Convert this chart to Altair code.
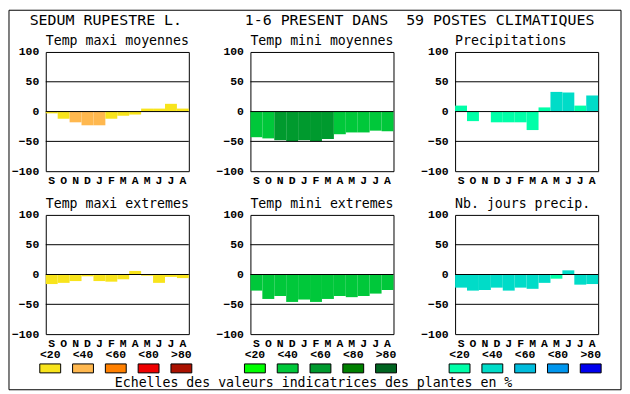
import altair as alt
import pandas as pd

# ---------------- data ----------------
MONTHS = ["S", "O", "N", "D", "J", "F", "M", "A", "M", "J", "J", "A"]
LEVELS = ["<20", "<40", "<60", "<80", ">80"]
Y_TICKS = [-100, -50, 0, 50, 100]
GRID = [50, 0, -50]

TMAX_COLORS = ["#f8e41c", "#ffb84f", "#ff8000", "#ee0000", "#aa1100"]
TMIN_COLORS = ["#00ff00", "#00c83a", "#009a2e", "#008000", "#006420"]
PREC_COLORS = ["#00ffa8", "#00dcc8", "#00bcdc", "#0096ee", "#0000ee"]

TMAX_MOY = [-3, -12, -18, -23, -23, -12, -7, -5, 5, 5, 13, 5]
TMAX_MOY_CLASS = [0, 0, 1, 1, 1, 0, 0, 0, 0, 0, 0, 0]
TMIN_MOY = [-43, -45, -48, -50, -48, -50, -46, -38, -35, -35, -32, -33]
TMIN_MOY_CLASS = [1, 1, 2, 2, 2, 2, 2, 1, 1, 1, 1, 1]
PRECIP = [10, -16, 0, -18, -18, -18, -31, 7, 33, 32, 10, 27]
PRECIP_CLASS = [0, 0, 0, 0, 0, 0, 0, 0, 1, 1, 0, 1]
TMAX_EXT = [-16, -14, -11, -3, -11, -12, -8, 6, -2, -14, -4, -6]
TMAX_EXT_CLASS = [0, 0, 0, 0, 0, 0, 0, 0, 0, 0, 0, 0]
TMIN_EXT = [-27, -41, -36, -46, -42, -46, -41, -36, -38, -36, -32, -26]
TMIN_EXT_CLASS = [1, 1, 1, 1, 1, 1, 1, 1, 1, 1, 1, 1]
NB_JOURS = [-22, -27, -26, -22, -27, -22, -24, -14, -7, 7, -17, -16]
NB_JOURS_CLASS = [1, 1, 1, 1, 1, 1, 1, 1, 0, 1, 1, 1]

TITLE = "SEDUM RUPESTRE L." + " " * 7 + "1-6 PRESENT DANS" + " " * 2 + "59 POSTES CLIMATIQUES"
FOOTER = "Echelles des valeurs indicatrices des plantes en %"

# ---------------- styling ----------------
FONT = "DejaVu Sans Mono"
LFONT = "Liberation Mono"
NBSP = "\u00a0"
W, H = 144, 120
# panel-1 origin assumed at page (45.5, 50.5); decorations are placed relative to it
OX, OY = 45.5, 50.5

PALETTES = {"tmax": TMAX_COLORS, "tmin": TMIN_COLORS, "prec": PREC_COLORS}
KEYS, COLS = [], []
for name, cols in PALETTES.items():
    for k, c in enumerate(cols):
        KEYS.append(f"{name}{k}")
        COLS.append(c)
COLOR = alt.Scale(domain=KEYS, range=COLS)

LABEL_EXPR = "[" + ",".join(f"'{m}'" for m in MONTHS) + "][datum.value]"
Y_SCALE = alt.Scale(domain=[-100, 100], nice=False)
Y_AXIS = alt.Axis(title=None, values=Y_TICKS, labelPadding=7, labelOverlap=False)


def panel(title, values, classes, palette, legend=False, decor=False):
    df = pd.DataFrame({"i": list(range(len(values))), "v": values,
                       "key": [f"{palette}{c}" for c in classes]})
    bars = alt.Chart(df).mark_bar(strokeWidth=0).encode(
        x=alt.X("i:O", scale=alt.Scale(paddingInner=0, paddingOuter=0),
                axis=alt.Axis(title=None, labelExpr=LABEL_EXPR, labelAngle=0,
                              labelPadding=3, labelBaseline="top")),
        y=alt.Y("v:Q", scale=Y_SCALE, axis=Y_AXIS),
        y2=alt.datum(0),
        color=alt.Color("key:N", scale=COLOR, legend=None),
    )
    rules = alt.Chart(pd.DataFrame({"g": GRID})).mark_rule(
        color="black", strokeWidth=1).encode(y=alt.Y("g:Q", scale=Y_SCALE, axis=Y_AXIS))
    sub = alt.Chart(pd.DataFrame({"t": [title.replace(" ", NBSP)]})).mark_text(
        font=FONT, fontSize=13.3, baseline="alphabetic", align="left",
        color="black").encode(x=alt.value(0), y=alt.value(-7), text="t:N")
    layers = [bars, rules, sub]
    if legend:
        ldf = pd.DataFrame({"level": LEVELS,
                            "key": [f"{palette}{k}" for k in range(len(LEVELS))]})
        lx = alt.X("level:N", sort=LEVELS,
                   scale=alt.Scale(type="point", range=[4.5, 136.5], padding=0),
                   axis=None)
        boxes = alt.Chart(ldf).mark_rect(width=21, stroke="black", strokeWidth=1).encode(
            x=lx, y=alt.value(150), y2=alt.value(159),
            color=alt.Color("key:N", scale=COLOR, legend=None))
        labels = alt.Chart(ldf).mark_text(
            font=LFONT, fontSize=11.5, fontWeight="bold", baseline="alphabetic",
            align="center", color="black").encode(
            x=lx, y=alt.value(144), text="level:N")
        layers += [boxes, labels]
    if decor:
        ddf = pd.DataFrame({"t": [TITLE.replace(" ", NBSP)], "f": [FOOTER.replace(" ", NBSP)]})
        frame = alt.Chart(ddf).mark_rect(fillOpacity=0, stroke="black", strokeWidth=1).encode(
            x=alt.value(8.5 - OX), x2=alt.value(624.5 - OX),
            y=alt.value(8.5 - OY), y2=alt.value(390.5 - OY))
        ttl = alt.Chart(ddf).mark_text(
            font=FONT, fontSize=15, baseline="alphabetic", align="center",
            color="black").encode(x=alt.value(313.5 - OX), y=alt.value(23.3 - OY), text="t:N")
        ftr = alt.Chart(ddf).mark_text(
            font=FONT, fontSize=13.3, baseline="alphabetic", align="center",
            color="black").encode(x=alt.value(315 - OX), y=alt.value(387.3 - OY), text="f:N")
        layers += [frame, ttl, ftr]
    ch = alt.layer(*layers)
    if legend:
        ch = ch.resolve_scale(x="independent")
    return ch.properties(width=W, height=H)


p1 = panel("Temp maxi moyennes", TMAX_MOY, TMAX_MOY_CLASS, "tmax", decor=True)
p2 = panel("Temp mini moyennes", TMIN_MOY, TMIN_MOY_CLASS, "tmin")
p3 = panel("Precipitations", PRECIP, PRECIP_CLASS, "prec")
p4 = panel("Temp maxi extremes", TMAX_EXT, TMAX_EXT_CLASS, "tmax", legend=True)
p5 = panel("Temp mini extremes", TMIN_EXT, TMIN_EXT_CLASS, "tmin", legend=True)
p6 = panel("Nb. jours precip.", NB_JOURS, NB_JOURS_CLASS, "prec", legend=True)

chart = alt.concat(
    p1, p2, p3, p4, p5, p6, columns=3,
    spacing={"row": 44, "column": 62}, bounds="flush",
).properties(
    padding=0, background="white"
).configure_view(
    stroke="black", strokeWidth=1
).configure_axis(
    labelFont=LFONT, labelFontSize=11.5, labelFontWeight="bold", labelColor="black",
    ticks=False, domain=False, grid=False
)

chart.save("out.html", embed_options={"renderer": "svg", "actions": False})
